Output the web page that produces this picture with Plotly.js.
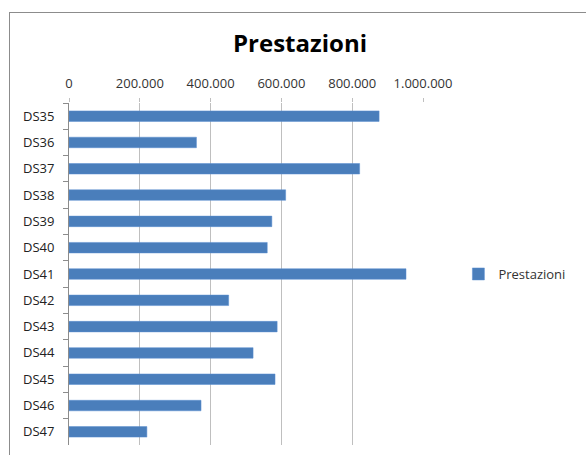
<!DOCTYPE html>
<html>
<head>
<meta charset="utf-8">
<script src="https://cdn.plot.ly/plotly-3.0.1.min.js"></script>
<style>
  html, body { margin: 0; padding: 0; background: #ffffff; }
  #wrap { position: relative; width: 586px; height: 455px; overflow: hidden; }
  #frame { position: absolute; left: 9px; top: 12px; width: 590px; height: 460px; border: 1px solid #8c8c8c; box-sizing: border-box; }
  #chart { position: absolute; left: 0; top: 0; width: 586px; height: 455px; }
</style>
</head>
<body>
<div id="wrap">
  <div id="frame"></div>
  <div id="chart"></div>
</div>
<script>
const categories = ["DS35","DS36","DS37","DS38","DS39","DS40","DS41","DS42","DS43","DS44","DS45","DS46","DS47"];
const prestazioni = [876000, 360000, 821000, 612000, 573000, 560000, 952000, 451000, 588000, 520000, 582000, 373000, 220000];
const xTicks = [0, 200000, 400000, 600000, 800000, 1000000];
const seriesName = "Prestazioni";
const chartTitle = "Prestazioni";

const FONT = "Open Sans, Noto Sans, sans-serif";

const trace = {
  type: "bar",
  orientation: "h",
  name: seriesName,
  x: prestazioni,
  y: categories,
  width: 0.4,
  marker: { color: "#4a7ebb", line: { color: "#5b8fd0", width: 0.5 } },
  showlegend: true
};

const layout = {
  width: 586,
  height: 455,
  paper_bgcolor: "rgba(0,0,0,0)",
  plot_bgcolor: "rgba(0,0,0,0)",
  separators: ",.",
  margin: { l: 69, r: 163, t: 103, b: 10 },
  font: { family: FONT, size: 13, color: "#333333" },
  title: {
    text: "<b>" + chartTitle + "</b>",
    xref: "container", yref: "container",
    x: 0.512, y: 0.905, xanchor: "center", yanchor: "middle",
    font: { family: FONT, size: 24, color: "#000000" }
  },
  xaxis: {
    side: "top",
    range: [0, 1000000],
    tickvals: xTicks,
    tickformat: ",d",
    showgrid: true,
    gridcolor: "#bfbfbf",
    gridwidth: 1,
    zeroline: false,
    showline: false,
    ticks: "outside",
    ticklen: 4,
    tickcolor: "#bfbfbf",
    ticklabelstandoff: 5,
    tickfont: { family: FONT, size: 13, color: "#333333" },
    fixedrange: true
  },
  yaxis: {
    type: "category",
    categoryorder: "array",
    categoryarray: categories,
    autorange: "reversed",
    showgrid: false,
    zeroline: false,
    showline: true,
    linecolor: "#8c8c8c",
    linewidth: 1,
    ticks: "outside",
    tickson: "boundaries",
    ticklen: 5,
    tickcolor: "#8c8c8c",
    ticklabelstandoff: 11,
    tickfont: { family: FONT, size: 13, color: "#222222" },
    fixedrange: true
  },
  legend: {
    x: 1.1, y: 0.5, xanchor: "left", yanchor: "middle",
    font: { family: FONT, size: 13, color: "#333333" },
    bgcolor: "rgba(0,0,0,0)"
  },
  bargap: 0.6
};

Plotly.newPlot("chart", [trace], layout, { displayModeBar: false, staticPlot: true });
</script>
</body>
</html>
